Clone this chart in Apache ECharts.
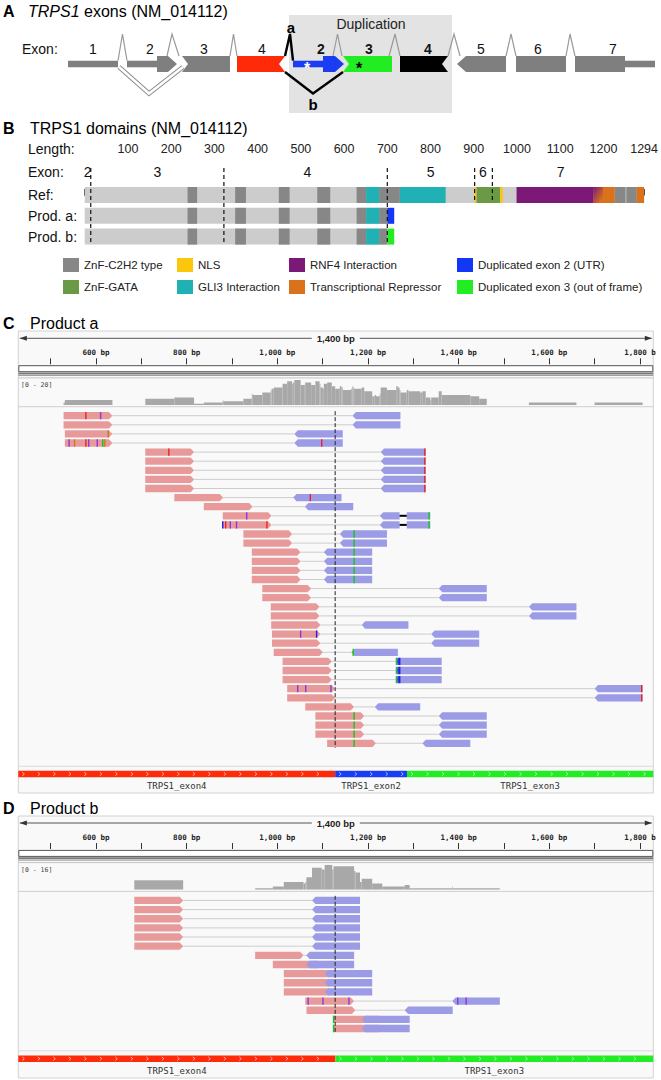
<!DOCTYPE html>
<html>
<head>
<meta charset="utf-8">
<script src="https://cdn.jsdelivr.net/npm/echarts@6.0.0/dist/echarts.min.js"></script>
<style>
html,body{margin:0;padding:0;background:#ffffff;}
#chart{width:661px;height:1080px;}
</style>
</head>
<body>
<div id="chart"></div>
<script>
// ================= Panel A : TRPS1 exon schematic (schematic units) =================
const exonNumLabelsA = ['1','2','3','4','2','3','4','5','6','7'];
const exonNumPosA    = [93,150,204,262,321,369,428,481,538,613];
const exonNumDupA    = [0,0,0,0,1,1,1,0,0,0];
// [start, end, size, leftEnd, rightEnd, kind]
const exonBlocksA = [
  [68,118,'thin','flat','flat','ref'],
  [127,158,'thin','flat','flat','ref'],
  [157,177,'thick','flat','point','ref'],
  [182,230,'thick','notch','flat','ref'],
  [237,285,'thick','flat','notch','ex4'],
  [293,324,'thin','flat','flat','dup2'],
  [323,344,'thick','flat','point','dup2'],
  [343,392,'thick','notch','flat','dup3'],
  [400,448,'thick','flat','notch','dup4'],
  [457,506,'thick','point','flat','ref'],
  [516,566,'thick','flat','flat','ref'],
  [575,625,'thick','flat','flat','ref'],
  [624,655,'thin','flat','flat','ref']
];
// splice junctions above the exons: [from, peak, to, kind]
const intronsA = [
  [118,122.5,127,'n'],[167,172,179,'n'],[230,233.5,237,'n'],[285,290,293,'a'],
  [333,337.5,342,'n'],[389,395,400,'n'],[448,454,460,'n'],[506,511,516,'n'],[566,570,575,'n']
];
// exon-skipping junctions below the exons: [from, valley, to, kind]
const skipsA = [[119,149,183,'skip'],[285,313,343,'b']];
const dupRegionA = [[289,452]];
const dupRegionLabelA = ['Duplication', 371];
const junctionLabelsA = [['a',291,'above'],['b',313,'below']];
const asterisksA = [[307,'dup2'],[359,'dup3']];

// ================= Panel B : TRPS1 domains (amino acids) =================
const lengthTickVals  = [0,100,200,300,400,500,600,700,800,900,1000,1100,1200,1294];
const lengthLabelVals = [100,200,300,400,500,600,700,800,900,1000,1100,1200,1294];
const proteinRowNamesB = ['Ref:','Prod. a:','Prod. b:'];
// [row, startAA, endAA]
const proteinSpanB = [[0,0,1294],[1,0,700],[2,0,700]];
const znfC2H2B = [
  [0,238,260],[0,348,373],[0,449,474],[0,538,568],[0,629,651],[0,681,729],[0,1226,1251],[0,1253,1277],
  [1,238,260],[1,348,373],[1,449,474],[1,538,568],[1,629,651],[1,681,700],
  [2,238,260],[2,348,373],[2,449,474],[2,538,568],[2,629,651],[2,681,700]
];
const znfGATAB   = [[0,906,961]];
const nlsB       = [[0,902,906],[0,961,967]];
const gli3B      = [[0,651,681],[0,729,835],[1,651,681],[2,651,681]];
const rnf4B      = [[0,999,1176]];
const rnf4RepOverlapB = [[0,1176,1199]];
const repressorB = [[0,1199,1226],[0,1277,1294]];
const dupExon2B  = [[1,700,716]];
const dupExon3B  = [[2,700,716]];
// [boundaryAA, lastRowReached]
const exonBoundsB = [[14,2],[322,2],[700,2],[902,0],[943,0]];
const exonNumsB   = [['2',7],['3',168],['4',515],['5',800],['6',921],['7',1101]];

// ================= Panels C / D : IGV read views (bp) =================
const viewBp = [428.6, 1829.4];
const viewSpanLabel = '1,400 bp';
const rulerTickVals  = [500,600,700,800,900,1000,1100,1200,1300,1400,1500,1600,1700,1800];
const rulerLabelVals = [600,800,1000,1200,1400,1600,1800];
const rulerLabelText = ['600 bp','800 bp','1,000 bp','1,200 bp','1,400 bp','1,600 bp','1,800 b'];
const junctionBp = 1127.6;

// read pairs, one per row: [fwdStart, fwdEnd, revStart, revEnd]
const readsC = [
  [528.5,636.2,1165.7,1271.6],
  [528.5,636.2,1165.7,1271.6],
  [531.3,636.2,1037.5,1144.3],
  [531.3,636.2,1037.5,1144.3],
  [708.7,816.4,1227.9,1327.3],
  [708.7,816.4,1227.9,1327.3],
  [708.7,816.4,1227.9,1327.3],
  [708.7,816.4,1227.9,1327.3],
  [708.7,816.4,1227.9,1327.3],
  [772.8,880.5,1034.7,1141.6],
  [837.8,945.5,1060.7,1167.5],
  [879.6,987.3,1226.0,1337.5],
  [879.6,987.3,1226.0,1337.5],
  [925.1,1032.8,1137.8,1241.8],
  [925.1,1032.8,1137.8,1241.8],
  [943.7,1051.4,1102.5,1209.3],
  [943.7,1051.4,1102.5,1209.3],
  [943.7,1051.4,1102.5,1209.3],
  [943.7,1051.4,1102.5,1209.3],
  [966.9,1074.6,1356.1,1462.0],
  [966.9,1074.6,1356.1,1462.0],
  [985.5,1093.2,1554.9,1659.8],
  [985.5,1093.2,1554.9,1659.8],
  [986.4,1095.1,1186.1,1289.2],
  [988.3,1095.1,1339.4,1445.3],
  [988.3,1095.1,1339.4,1445.3],
  [992.0,1100.6,1162.9,1266.0],
  [1011.5,1120.2,1262.3,1362.6],
  [1011.5,1120.2,1262.3,1362.6],
  [1011.5,1120.2,1262.3,1362.6],
  [1021.7,1127.6,1699.8,1805.7],
  [1021.7,1127.6,1699.8,1805.7],
  [1061.6,1169.4,1214.9,1315.2],
  [1083.9,1191.7,1356.1,1462.0],
  [1083.9,1191.7,1356.1,1462.0],
  [1083.9,1191.7,1356.1,1462.0],
  [1109.9,1217.7,1319.9,1425.8]
];
// deletions inside reads: [row, fromBp, toBp]
const deletionsC = [[11,1269.7,1285.5],[12,1269.7,1285.5]];
// mismatching bases: [row, bp, base]  (I = insertion)
const mismatchesC = [
  [0,577.7,'T'],[0,610.2,'I'],[2,627.0,'G'],
  [3,540.6,'I'],[3,552.6,'G'],[3,577.7,'T'],[3,584.0,'I'],[3,602.8,'I'],[3,614.9,'A'],[3,619.5,'G'],[3,1097.9,'T'],
  [4,760.7,'T'],[4,1325.4,'T'],[5,1325.4,'T'],[6,1325.4,'T'],[7,1325.4,'T'],[8,1325.4,'T'],
  [9,1072.8,'T'],[11,932.5,'I'],[11,1334.8,'A'],[12,1334.8,'A'],
  [12,879.6,'C'],[12,886.0,'T'],[12,896.3,'I'],[12,910.0,'I'],[12,977.0,'T'],
  [13,1169.4,'A'],[14,1169.4,'A'],[15,1169.4,'A'],[16,1169.4,'A'],[17,1169.4,'A'],[18,1169.4,'A'],
  [24,1051.4,'I'],[24,1086.7,'C'],[26,1167.5,'A'],
  [27,1262.8,'A'],[27,1266.5,'C'],[27,1270.0,'C'],
  [28,1262.8,'A'],[28,1266.5,'C'],[28,1270.0,'C'],
  [29,1262.8,'A'],[29,1266.5,'C'],[29,1270.0,'C'],
  [30,1045.0,'I'],[30,1062.6,'I'],[30,1118.3,'I'],[30,1803.8,'T'],[31,1803.8,'T'],
  [33,1169.4,'A'],[34,1169.4,'A'],[35,1169.4,'A'],[36,1169.4,'A']
];
// [name, startBp, endBp, kind]
const geneC = [['TRPS1_exon4',200,1127.6,'ex4'],['TRPS1_exon2',1127.6,1286,'dup2'],['TRPS1_exon3',1286,2000,'dup3']];
const covRangeC = 20;

const readsD = [
  [684.5,792.3,1076.5,1182.4],
  [684.5,792.3,1076.5,1182.4],
  [684.5,792.3,1076.5,1182.4],
  [684.5,792.3,1076.5,1182.4],
  [684.5,792.3,1076.5,1182.4],
  [684.5,792.3,1076.5,1182.4],
  [951.1,1057.9,1063.5,1169.4],
  [990.1,1097.9,1063.5,1169.4],
  [1014.3,1121.1,1104.4,1209.3],
  [1014.3,1121.1,1104.4,1209.3],
  [1014.3,1121.1,1104.4,1209.3],
  [1061.6,1169.4,1385.8,1490.8],
  [1064.4,1172.2,1280.9,1386.8],
  [1123.9,1231.6,1186.1,1292.0],
  [1123.9,1231.6,1186.1,1292.0]
];
const deletionsD = [];
const mismatchesD = [[11,1068.0,'I'],[11,1100.7,'I'],[11,1158.0,'I'],[11,1398.0,'I'],[11,1416.5,'I'],[13,1124.0,'A'],[14,1124.0,'A']];
const geneD = [['TRPS1_exon4',200,1128,'ex4'],['TRPS1_exon3',1128,2000,'dup3']];
const covRangeD = 16;

// ================= styles =================
const FONT = '"Liberation Sans", Arial, Helvetica, sans-serif';
const MONO = '"DejaVu Sans Mono", "Liberation Mono", monospace';
const exonColor = {ref:'#7f7f7f', ex4:'#ff2a0a', dup2:'#1a3cf2', dup3:'#22ec22', dup4:'#000000'};
const domColor = {base:'#cccccc', c2h2:'#878787', gata:'#6a9a45', nls:'#fcc60d', gli3:'#20b1b5',
                  rnf4:'#7c1877', rep:'#d9721b', dup2:'#1238f5', dup3:'#22ec22'};
const PINK = '#e89a9a', BLUE = '#9b9be6';
const baseColor = {A:'#14c814', C:'#1d1df0', G:'#c87a1a', T:'#ee2222', I:'#8a3ad8'};

// ================= helpers =================
function topAtA(x){
  let best = null;
  exonBlocksA.forEach(b => { if (x >= b[0]-0.01 && x <= b[1]+0.01) { if (!best || b[2]==='thick') best = b; } });
  if (!best) { let md = 1e9; exonBlocksA.forEach(b => { const d = Math.min(Math.abs(b[0]-x), Math.abs(b[1]-x)); if (d < md) { md = d; best = b; } }); }
  return best[2]==='thick' ? -8 : -3.3;
}
function coverage(reads, dels){
  const ev = [];
  reads.forEach(r => { ev.push([r[0],1],[r[1],-1],[r[2],1],[r[3],-1]); });
  dels.forEach(d => { ev.push([d[1],-1],[d[2],1]); });
  ev.sort((a,b)=>a[0]-b[0]);
  const out = []; let depth = 0;
  for (let i=0;i<ev.length;i++){
    depth += ev[i][1];
    const nx = ev[i+1];
    if (nx && nx[0] > ev[i][0] && depth > 0) out.push([ev[i][0], nx[0], depth]);
  }
  return out;
}
function txt(text, x, y, font, fill, align){
  return {type:'text', x:x, y:y, style:{text:text, font:font, fill:fill||'#111',
    align:align||'center', verticalAlign:'middle', textAlign:align||'center', textVerticalAlign:'middle'}};
}

const option = {
  animation:false, backgroundColor:'#ffffff',
  textStyle:{fontFamily:FONT},
  grid:[], xAxis:[], yAxis:[], series:[], legend:[], graphic:{elements:[]}
};
const G = option.graphic.elements;

// ---------------- Panel A ----------------
option.grid.push({left:0, top:15, width:661, height:105});
option.xAxis.push({gridIndex:0, type:'value', min:0, max:661, show:false});
option.yAxis.push({gridIndex:0, type:'value', min:-49, max:56, inverse:true, show:false});

option.series.push({type:'custom', xAxisIndex:0, yAxisIndex:0, silent:true, data:dupRegionA,
  renderItem:(p,api)=>{const d=dupRegionA[p.dataIndex]; const a=api.coord([d[0],-49]), b=api.coord([d[1],49]);
    return {type:'rect', shape:{x:a[0],y:a[1],width:b[0]-a[0],height:b[1]-a[1]}, style:{fill:'#e3e3e3'}};}});
option.series.push({type:'custom', xAxisIndex:0, yAxisIndex:0, silent:true, data:intronsA.map(d=>[d[0],d[1],d[2]]),
  renderItem:(p,api)=>{const d=intronsA[p.dataIndex];
    const pts=[api.coord([d[0],topAtA(d[0])]), api.coord([d[1],-30]), api.coord([d[2],topAtA(d[2])])];
    const isA = d[3]==='a';
    return {type:'polyline', shape:{points:pts}, style:{stroke:isA?'#000':'#9a9a9a', lineWidth:isA?2.4:1.2, fill:null}};}});
option.series.push({type:'custom', xAxisIndex:0, yAxisIndex:0, silent:true, data:skipsA.map(d=>[d[0],d[1],d[2]]),
  renderItem:(p,api)=>{const d=skipsA[p.dataIndex]; const isB = d[3]==='b';
    const pts=[api.coord([d[0],isB?8:3]), api.coord([d[1],29.5]), api.coord([d[2],isB?8:3])];
    if (isB) return {type:'polyline', shape:{points:pts}, style:{stroke:'#000', lineWidth:2.4, fill:null}};
    return {type:'group', children:[
      {type:'polyline', shape:{points:pts}, style:{stroke:'#8c8c8c', lineWidth:4.6, fill:null}},
      {type:'polyline', shape:{points:pts}, style:{stroke:'#ffffff', lineWidth:2.6, fill:null}}]};}});
option.series.push({type:'custom', xAxisIndex:0, yAxisIndex:0, silent:true, data:exonBlocksA.map(b=>[b[0],b[1]]),
  renderItem:(p,api)=>{const b=exonBlocksA[p.dataIndex]; const half = b[2]==='thick'?8:3.3;
    const a=api.coord([b[0],-half]), c=api.coord([b[1],half]);
    const x0=a[0], yt=a[1], x1=c[0], yb=c[1], ym=(yt+yb)/2, pd=9, nd=6;
    const pts=[];
    if (b[3]==='point') pts.push([x0+pd,yb],[x0,ym],[x0+pd,yt]);
    else if (b[3]==='notch') pts.push([x0,yb],[x0+nd,ym],[x0,yt]);
    else pts.push([x0,yb],[x0,yt]);
    if (b[4]==='point') pts.push([x1-pd,yt],[x1,ym],[x1-pd,yb]);
    else if (b[4]==='notch') pts.push([x1,yt],[x1-nd,ym],[x1,yb]);
    else pts.push([x1,yt],[x1,yb]);
    return {type:'polygon', shape:{points:pts}, style:{fill:exonColor[b[5]]}};}});
option.series.push({type:'custom', xAxisIndex:0, yAxisIndex:0, silent:true, data:asterisksA.map(a=>[a[0],0]),
  renderItem:(p,api)=>{const a=asterisksA[p.dataIndex]; const c=api.coord([a[0],4]);
    return txt('*', c[0], c[1], 'bold 16px '+FONT, a[1]==='dup2'?'#ffffff':'#000000');}});
option.series.push({type:'custom', xAxisIndex:0, yAxisIndex:0, silent:true, data:exonNumPosA.map(x=>[x,-15]),
  renderItem:(p,api)=>{const i=p.dataIndex; const c=api.coord([exonNumPosA[i],-15.5]);
    return txt(exonNumLabelsA[i], c[0], c[1], (exonNumDupA[i]?'bold ':'')+'14px '+FONT, '#111');}});
option.series.push({type:'custom', xAxisIndex:0, yAxisIndex:0, silent:true, data:[[dupRegionLabelA[1],-40]],
  renderItem:(p,api)=>{const c=api.coord([dupRegionLabelA[1],-40]); return txt(dupRegionLabelA[0], c[0], c[1], '14px '+FONT, '#222');}});
option.series.push({type:'custom', xAxisIndex:0, yAxisIndex:0, silent:true, data:junctionLabelsA.map(j=>[j[1],0]),
  renderItem:(p,api)=>{const j=junctionLabelsA[p.dataIndex]; const c=api.coord([j[1], j[2]==='above'?-37:40]);
    return txt(j[0], c[0], c[1], 'bold 15px '+FONT, '#000');}});

G.push({type:'text', x:3, y:11, style:{text:'A', font:'bold 16px '+FONT, fill:'#000', textVerticalAlign:'middle', verticalAlign:'middle'}});
G.push({type:'text', x:28, y:11, style:{text:'{i|TRPS1} exons (NM_014112)', font:'16px '+FONT, fill:'#000',
  rich:{i:{fontStyle:'italic', fontSize:16, fontFamily:FONT, fill:'#000'}}, textVerticalAlign:'middle', verticalAlign:'middle'}});
G.push(txt('Exon:', 22, 49, '14px '+FONT, '#111', 'left'));

// ---------------- Panel B ----------------
option.grid.push({left:84.7, top:163, width:565.3, height:82});
option.xAxis.push({gridIndex:1, type:'value', min:0, max:1294, position:'top',
  axisLine:{show:true, lineStyle:{color:'#444', width:1}},
  axisTick:{show:true, length:6, customValues:lengthTickVals, lineStyle:{color:'#444', width:1}},
  axisLabel:{show:true, customValues:lengthLabelVals, margin:8, fontSize:12.5, color:'#222', fontFamily:FONT,
    formatter:(v)=>String(Math.round(v))},
  splitLine:{show:false}});
option.yAxis.push({gridIndex:1, type:'value', min:-1.538, max:2.404, inverse:true, show:false});

function bSeries(name, arr, color){
  return {type:'custom', name:name, xAxisIndex:1, yAxisIndex:1, silent:true, itemStyle:{color:color},
    data:arr.map(d=>[d[1],d[0],d[2]]),
    renderItem:(p,api)=>{const d=arr[p.dataIndex]; const a=api.coord([d[1],d[0]]), b=api.coord([d[2],d[0]]);
      const h=api.size([0,0.77])[1];
      return {type:'rect', shape:{x:a[0],y:a[1]-h/2,width:b[0]-a[0],height:h}, style:{fill:color}};}};
}
option.series.push(bSeries('Protein', proteinSpanB, domColor.base));
option.series.push(bSeries('ZnF-C2H2 type', znfC2H2B, domColor.c2h2));
option.series.push(bSeries('GLI3 Interaction', gli3B, domColor.gli3));
option.series.push(bSeries('ZnF-GATA', znfGATAB, domColor.gata));
option.series.push(bSeries('NLS', nlsB, domColor.nls));
option.series.push(bSeries('RNF4 Interaction', rnf4B, domColor.rnf4));
option.series.push(bSeries('Transcriptional Repressor', repressorB, domColor.rep));
option.series.push({type:'custom', name:'RNF4/Repressor overlap', xAxisIndex:1, yAxisIndex:1, silent:true,
  data:rnf4RepOverlapB.map(d=>[d[1],d[0],d[2]]),
  renderItem:(p,api)=>{const d=rnf4RepOverlapB[p.dataIndex]; const a=api.coord([d[1],d[0]]), b=api.coord([d[2],d[0]]);
    const h=api.size([0,0.77])[1];
    return {type:'rect', shape:{x:a[0],y:a[1]-h/2,width:b[0]-a[0],height:h},
      style:{fill:new echarts.graphic.LinearGradient(0,0,1,1,[{offset:0,color:domColor.rnf4},{offset:0.85,color:domColor.rep}])}};}});
option.series.push(bSeries('Duplicated exon 2 (UTR)', dupExon2B, domColor.dup2));
option.series.push(bSeries('Duplicated exon 3 (out of frame)', dupExon3B, domColor.dup3));
option.series.push({type:'custom', xAxisIndex:1, yAxisIndex:1, silent:true, data:exonBoundsB.map(d=>[d[0],d[1]]),
  renderItem:(p,api)=>{const d=exonBoundsB[p.dataIndex]; const a=api.coord([d[0],-1.3]), b=api.coord([d[0],d[1]+0.385]);
    return {type:'line', shape:{x1:a[0],y1:a[1],x2:b[0],y2:b[1]}, style:{stroke:'#111', lineWidth:1.2, lineDash:[4,3]}};}});
option.series.push({type:'custom', xAxisIndex:1, yAxisIndex:1, silent:true, data:exonNumsB.map(d=>[d[1],-1.1]),
  renderItem:(p,api)=>{const d=exonNumsB[p.dataIndex]; const c=api.coord([d[1],-1.1]);
    return txt(d[0], c[0], c[1], '14px '+FONT, '#111');}});

G.push({type:'text', x:3, y:128, style:{text:'B', font:'bold 16px '+FONT, fill:'#000', textVerticalAlign:'middle', verticalAlign:'middle'}});
G.push(txt('TRPS1 domains (NM_014112)', 30, 128, '16px '+FONT, '#000', 'left'));
G.push(txt('Length:', 28, 149, '14px '+FONT, '#111', 'left'));
G.push(txt('Exon:', 28, 172, '14px '+FONT, '#111', 'left'));
const rowLabelY = [195, 216, 237];
proteinRowNamesB.forEach((n,i)=>G.push(txt(n, 28, rowLabelY[i], '14px '+FONT, '#111', 'left')));

const legendCols = [
  [63, ['ZnF-C2H2 type','ZnF-GATA']],
  [177, ['NLS','GLI3 Interaction']],
  [289, ['RNF4 Interaction','Transcriptional Repressor']],
  [457, ['Duplicated exon 2 (UTR)','Duplicated exon 3 (out of frame)']]
];
legendCols.forEach(c=>option.legend.push({left:c[0], top:258, orient:'vertical', padding:0, itemGap:8,
  itemWidth:16, itemHeight:14, icon:'rect', selectedMode:false, data:c[1],
  textStyle:{fontSize:11.5, color:'#222', fontFamily:FONT}}));

// ---------------- Panels C / D ----------------
const X0 = 18.3, XW = 635;
function addIGV(letter, title, L, reads, dels, mism, genes, covMax){
  const gi = option.grid.length;
  const cov = coverage(reads, dels);
  option.grid.push({left:X0, width:XW, top:L.rulerTop, height:L.rulerBase-L.rulerTop});
  option.grid.push({left:X0, width:XW, top:L.covTop, height:L.covBottom-L.covTop});
  option.grid.push({left:X0, width:XW, top:L.readsTop, height:reads.length*L.pitch});
  option.grid.push({left:X0, width:XW, top:L.geneTop, height:L.geneH});
  option.xAxis.push({gridIndex:gi, type:'value', min:viewBp[0], max:viewBp[1], position:'bottom',
    axisLine:{show:false}, splitLine:{show:false},
    axisTick:{show:true, inside:true, length:6, customValues:rulerTickVals, lineStyle:{color:'#333', width:1}},
    axisLabel:{show:true, inside:true, margin:8, customValues:rulerLabelVals,
      formatter:(v)=>rulerLabelText[rulerLabelVals.indexOf(Math.round(v))],
      fontFamily:MONO, fontWeight:'bold', fontSize:7.5, color:'#222'}});
  for (let k=1;k<4;k++) option.xAxis.push({gridIndex:gi+k, type:'value', min:viewBp[0], max:viewBp[1], show:false});
  option.yAxis.push({gridIndex:gi, type:'value', min:0, max:1, show:false});
  option.yAxis.push({gridIndex:gi+1, type:'value', min:0, max:covMax, show:false});
  option.yAxis.push({gridIndex:gi+2, type:'value', min:-0.5, max:reads.length-0.5, inverse:true, show:false});
  option.yAxis.push({gridIndex:gi+3, type:'value', min:0, max:1, show:false});

  // span arrow
  option.series.push({type:'custom', xAxisIndex:gi, yAxisIndex:gi, silent:true, data:[[viewBp[0],viewBp[1]]],
    renderItem:(p,api)=>{const x0=api.coord([viewBp[0],0])[0]+1.5, x1=api.coord([viewBp[1],0])[0]-1.5, y=p.coordSys.y+5;
      return {type:'group', children:[
        {type:'line', shape:{x1:x0,y1:y,x2:x1,y2:y}, style:{stroke:'#555', lineWidth:1}},
        {type:'polygon', shape:{points:[[x0,y],[x0+7,y-2.5],[x0+7,y+2.5]]}, style:{fill:'#333'}},
        {type:'polygon', shape:{points:[[x1,y],[x1-7,y-2.5],[x1-7,y+2.5]]}, style:{fill:'#333'}},
        {type:'text', x:(x0+x1)/2, y:y, style:{text:viewSpanLabel, font:'bold 9.5px '+FONT, fill:'#222',
          align:'center', verticalAlign:'middle', textAlign:'center', textVerticalAlign:'middle',
          backgroundColor:'#fafafa', padding:[1,5]}}]};}});
  // coverage
  option.series.push({type:'custom', xAxisIndex:gi+1, yAxisIndex:gi+1, silent:true, clip:true, data:cov,
    renderItem:(p,api)=>{const d=cov[p.dataIndex]; const a=api.coord([d[0],Math.min(d[2],covMax)]), b=api.coord([d[1],0]);
      return {type:'rect', shape:{x:a[0],y:a[1],width:b[0]-a[0],height:b[1]-a[1]}, style:{fill:'#a8a8a8'}};}});
  // read pairs
  option.series.push({type:'custom', xAxisIndex:gi+2, yAxisIndex:gi+2, silent:true, clip:true, data:reads.map((r,i)=>[r[0],i,r[1],r[2],r[3]]),
    renderItem:(p,api)=>{const r=reads[p.dataIndex], row=p.dataIndex;
      const cy=api.coord([r[0],row])[1], h=L.pitch*0.8, top=cy-h/2, bot=cy+h/2, tip=3.5;
      const xps=api.coord([r[0],row])[0], xpe=api.coord([r[1],row])[0], xbs=api.coord([r[2],row])[0], xbe=api.coord([r[3],row])[0];
      const ch=[];
      if (xbs > xpe) ch.push({type:'line', shape:{x1:xpe,y1:cy,x2:xbs,y2:cy}, style:{stroke:'#cdcdcd', lineWidth:1}});
      ch.push({type:'polygon', shape:{points:[[xps,top],[xpe-tip,top],[xpe,cy],[xpe-tip,bot],[xps,bot]]}, style:{fill:PINK}});
      ch.push({type:'polygon', shape:{points:[[xbs+tip,top],[xbe,top],[xbe,bot],[xbs+tip,bot],[xbs,cy]]}, style:{fill:BLUE}});
      return {type:'group', children:ch};}});
  // deletions
  if (dels.length) option.series.push({type:'custom', xAxisIndex:gi+2, yAxisIndex:gi+2, silent:true, data:dels.map(d=>[d[1],d[0],d[2]]),
    renderItem:(p,api)=>{const d=dels[p.dataIndex]; const a=api.coord([d[1],d[0]]), b=api.coord([d[2],d[0]]); const h=L.pitch*0.8;
      return {type:'group', children:[
        {type:'rect', shape:{x:a[0],y:a[1]-h/2-0.5,width:b[0]-a[0],height:h+1}, style:{fill:'#f9f9f9'}},
        {type:'line', shape:{x1:a[0],y1:a[1],x2:b[0],y2:b[1]}, style:{stroke:'#000', lineWidth:2}}]};}});
  // mismatches
  option.series.push({type:'custom', xAxisIndex:gi+2, yAxisIndex:gi+2, silent:true, data:mism.map(m=>[m[1],m[0]]),
    renderItem:(p,api)=>{const m=mism[p.dataIndex]; const c=api.coord([m[1],m[0]]); const h=L.pitch*0.8;
      return {type:'rect', shape:{x:c[0]-0.7,y:c[1]-h/2,width:1.4,height:h}, style:{fill:baseColor[m[2]]}};}});
  // junction dashed line
  option.series.push({type:'custom', xAxisIndex:gi+2, yAxisIndex:gi+2, silent:true, data:[[junctionBp,0]],
    renderItem:(p,api)=>{const x=api.coord([junctionBp,0])[0];
      return {type:'line', shape:{x1:x,y1:p.coordSys.y,x2:x,y2:p.coordSys.y+p.coordSys.height}, style:{stroke:'#222', lineWidth:1, lineDash:[4,2]}};}});
  // gene track
  option.series.push({type:'custom', xAxisIndex:gi+3, yAxisIndex:gi+3, silent:true, data:genes.map(g=>[g[1],g[2]]),
    renderItem:(p,api)=>{const g=genes[p.dataIndex];
      const s=Math.max(g[1],viewBp[0]), e=Math.min(g[2],viewBp[1]);
      const a=api.coord([s,1]), b=api.coord([e,0]);
      const ch=[{type:'rect', shape:{x:a[0],y:a[1],width:b[0]-a[0],height:b[1]-a[1]}, style:{fill:exonColor[g[3]]}}];
      const cy=(a[1]+b[1])/2;
      for (let x=a[0]+5; x<b[0]-3; x+=15.5)
        ch.push({type:'polyline', shape:{points:[[x-1,cy-1.8],[x+1,cy],[x-1,cy+1.8]]}, style:{stroke:'#ffffff', lineWidth:0.8, fill:null, opacity:0.8}});
      ch.push({type:'text', x:(a[0]+b[0])/2, y:b[1]+9, style:{text:g[0], font:'9px '+MONO, fill:'#333',
        align:'center', verticalAlign:'middle', textAlign:'center', textVerticalAlign:'middle'}});
      return {type:'group', children:ch};}});

  // frame decorations
  const base = L.rulerBase;
  G.push({type:'rect', z:-10, shape:{x:X0, y:L.frameTop, width:XW, height:L.frameBottom-L.frameTop}, style:{fill:'#f9f9f9', stroke:'#d2d2d2', lineWidth:1}});
  G.push({type:'rect', z:-5, shape:{x:X0+0.5, y:base+1.4, width:XW-1, height:6}, style:{fill:'#ffffff', stroke:'#555555', lineWidth:1}});
  G.push({type:'line', z:-5, shape:{x1:X0, y1:base+9.2, x2:X0+XW, y2:base+9.2}, style:{stroke:'#7a7a7a', lineWidth:2}});
  G.push({type:'line', z:-5, shape:{x1:X0, y1:base+11.2, x2:X0+XW, y2:base+11.2}, style:{stroke:'#a0a0a0', lineWidth:1}});
  G.push({type:'line', z:-5, shape:{x1:X0, y1:base+13.6, x2:X0+XW, y2:base+13.6}, style:{stroke:'#c4c4c4', lineWidth:1}});
  G.push({type:'line', z:-5, shape:{x1:X0, y1:L.covBottom+1.7, x2:X0+XW, y2:L.covBottom+1.7}, style:{stroke:'#cfcfcf', lineWidth:1}});
  G.push({type:'line', z:-5, shape:{x1:X0, y1:L.geneTop-4.5, x2:X0+XW, y2:L.geneTop-4.5}, style:{stroke:'#dadada', lineWidth:1}});
  G.push(txt('[0 - '+covMax+']', 21, L.covTop+5, '6.5px '+MONO, '#444', 'left'));
  G.push({type:'text', x:3, y:L.frameTop-8, style:{text:letter, font:'bold 16px '+FONT, fill:'#000', textVerticalAlign:'middle', verticalAlign:'middle'}});
  G.push(txt(title, 30, L.frameTop-8, '16px '+FONT, '#000', 'left'));
}

addIGV('C', 'Product a', {frameTop:331, frameBottom:793, rulerTop:333.3, rulerBase:364.3, covTop:380, covBottom:405,
  readsTop:411.15, pitch:9.1, geneTop:770.7, geneH:6.6}, readsC, deletionsC, mismatchesC, geneC, covRangeC);
addIGV('D', 'Product b', {frameTop:816, frameBottom:1078, rulerTop:818, rulerBase:849, covTop:864.7, covBottom:889.7,
  readsTop:895.85, pitch:9.15, geneTop:1055.4, geneH:6.6}, readsD, deletionsD, mismatchesD, geneD, covRangeD);

const chart = echarts.init(document.getElementById('chart'), null, {renderer:'svg', width:661, height:1080});
chart.setOption(option);
</script>
</body>
</html>
